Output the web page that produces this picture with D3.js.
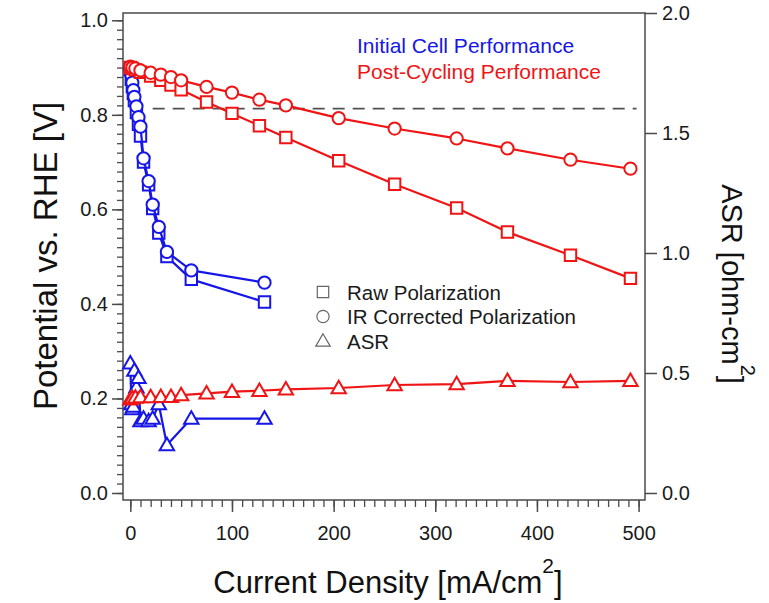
<!DOCTYPE html>
<html>
<head>
<meta charset="utf-8">
<script src="https://cdn.jsdelivr.net/npm/d3@7"></script>
<style>
  body { margin: 0; background: #fff; }
  svg { font-family: "Liberation Sans", Arial, sans-serif; }
</style>
</head>
<body>
<div id="vis"></div>
<script>
// Polarization + ASR, initial cell vs. post-cycling.
// Left axis: potential [V]; right axis: ASR [ohm-cm²].

// ── Data ─────────────────────────────────────────────────────────────────────

const INIT_I   = [0, 1, 2, 3, 4, 6, 8, 10, 13, 18, 22, 28, 36, 60, 132];
const INIT_RAW = [0.895, 0.875, 0.86, 0.845, 0.83, 0.805, 0.78, 0.755, 0.70, 0.652, 0.602, 0.55, 0.50, 0.452, 0.404];
const INIT_IR  = [0.898, 0.885, 0.868, 0.852, 0.838, 0.818, 0.795, 0.775, 0.708, 0.66, 0.61, 0.563, 0.51, 0.471, 0.445];
const INIT_ASR = [0.54, 0.37, 0.35, 0.36, 0.51, 0.44, 0.48, 0.30, 0.31, 0.30, 0.31, 0.37, 0.20, 0.31, 0.31];

const POST_I   = [0, 2, 5, 10, 20, 30, 40, 50, 75, 100, 127, 153, 205, 260, 321, 371, 433, 492];
const POST_RAW = [0.900, 0.898, 0.895, 0.890, 0.882, 0.873, 0.863, 0.853, 0.827, 0.803, 0.777, 0.752, 0.703, 0.653, 0.603, 0.552, 0.503, 0.454];
const POST_IR  = [0.902, 0.900, 0.898, 0.894, 0.889, 0.885, 0.880, 0.873, 0.859, 0.847, 0.832, 0.820, 0.793, 0.771, 0.750, 0.729, 0.705, 0.686];
const POST_ASR = [0.39, 0.395, 0.398, 0.40, 0.40, 0.401, 0.401, 0.408, 0.415, 0.422, 0.426, 0.432, 0.4375, 0.45, 0.454, 0.467, 0.4625, 0.467];

const REF_V     = 0.813;          // dashed reference potential
const REF_RANGE = [22, 498];      // current density span of dashed line

const X_TICKS  = [0, 100, 200, 300, 400, 500];
const YL_TICKS = [0.0, 0.2, 0.4, 0.6, 0.8, 1.0];
const YR_TICKS = [0.0, 0.5, 1.0, 1.5, 2.0];

const LEGEND_CELLS   = ["Initial Cell Performance", "Post-Cycling Performance"];
const LEGEND_SYMBOLS = ["Raw Polarization", "IR Corrected Polarization", "ASR"];

const BLUE = "#1616e8";
const RED  = "#f01414";
const AXIS = "#4a4a4a";

// ── Layout ───────────────────────────────────────────────────────────────────

const W = 769, H = 603;
const plot = { left: 123, right: 645, top: 13, bottom: 500 };

const svg = d3.select("#vis").append("svg")
  .attr("width", W)
  .attr("height", H);

const x = d3.scaleLinear().domain([-7.2, 506.3]).range([plot.left, plot.right]);
const yL = d3.scaleLinear().domain([-0.0148, 1.0154]).range([plot.bottom, plot.top]);
const yR = d3.scaleLinear().domain([-0.0292, 2.0]).range([plot.bottom, plot.top]);

// ── Axes ─────────────────────────────────────────────────────────────────────

const tickText = sel => sel.selectAll("text")
  .style("font-size", "20px")
  .style("fill", "#1a1a1a");

// bottom: minor every 10
svg.append("g")
  .attr("transform", `translate(0,${plot.bottom})`)
  .call(d3.axisBottom(x).tickValues(d3.range(0, 501, 10)).tickSize(7).tickFormat(""))
  .call(ax => ax.select(".domain").remove())
  .call(ax => ax.selectAll("line").attr("stroke", AXIS).attr("stroke-width", 1.3));

svg.append("g")
  .attr("transform", `translate(0,${plot.bottom})`)
  .call(d3.axisBottom(x).tickValues(X_TICKS).tickSize(12).tickPadding(14).tickFormat(d3.format("d")))
  .call(ax => ax.select(".domain").remove())
  .call(ax => ax.selectAll("line").attr("stroke", AXIS).attr("stroke-width", 1.5))
  .call(tickText);

// left: minor every 0.02
svg.append("g")
  .attr("transform", `translate(${plot.left},0)`)
  .call(d3.axisLeft(yL).tickValues(d3.range(0, 51).map(i => i * 0.02)).tickSize(6).tickFormat(""))
  .call(ax => ax.select(".domain").remove())
  .call(ax => ax.selectAll("line").attr("stroke", AXIS).attr("stroke-width", 1.3));

svg.append("g")
  .attr("transform", `translate(${plot.left},0)`)
  .call(d3.axisLeft(yL).tickValues(YL_TICKS).tickSize(11).tickPadding(4).tickFormat(d3.format(".1f")))
  .call(ax => ax.select(".domain").remove())
  .call(ax => ax.selectAll("line").attr("stroke", AXIS).attr("stroke-width", 1.5))
  .call(tickText);

// right: ASR
svg.append("g")
  .attr("transform", `translate(${plot.right},0)`)
  .call(d3.axisRight(yR).tickValues(YR_TICKS).tickSize(12).tickPadding(5).tickFormat(d3.format(".1f")))
  .call(ax => ax.select(".domain").remove())
  .call(ax => ax.selectAll("line").attr("stroke", AXIS).attr("stroke-width", 1.5))
  .call(tickText);

// frame
svg.append("rect")
  .attr("x", plot.left).attr("y", plot.top)
  .attr("width", plot.right - plot.left)
  .attr("height", plot.bottom - plot.top)
  .attr("fill", "none")
  .attr("stroke", AXIS)
  .attr("stroke-width", 1.5);

// ── Axis titles ──────────────────────────────────────────────────────────────

svg.append("text")
  .attr("transform", `translate(57,256) rotate(-90)`)
  .attr("text-anchor", "middle")
  .style("font-size", "33px")
  .style("fill", "#111")
  .text("Potential vs. RHE [V]");

const xTitle = svg.append("text")
  .attr("x", 388).attr("y", 593)
  .attr("text-anchor", "middle")
  .style("font-size", "31px")
  .style("fill", "#111");
xTitle.append("tspan").text("Current Density [mA/cm");
xTitle.append("tspan").attr("dy", -20).style("font-size", "21px").text("2");
xTitle.append("tspan").attr("dy", 20).text("]");

const rTitle = svg.append("text")
  .attr("transform", `translate(722,284) rotate(90)`)
  .attr("text-anchor", "middle")
  .style("font-size", "29px")
  .style("fill", "#111");
rTitle.append("tspan").text("ASR [ohm-cm");
rTitle.append("tspan").attr("dy", -19).style("font-size", "20px").text("2");
rTitle.append("tspan").attr("dy", 19).text("]");

// ── Reference line ───────────────────────────────────────────────────────────

svg.append("line")
  .attr("x1", x(REF_RANGE[0])).attr("x2", x(REF_RANGE[1]))
  .attr("y1", yL(REF_V)).attr("y2", yL(REF_V))
  .attr("stroke", "#505050")
  .attr("stroke-width", 1.8)
  .attr("stroke-dasharray", "12,8");

// ── Series ───────────────────────────────────────────────────────────────────

const SQ = d3.symbol().type(d3.symbolSquare).size(130);
const CI = d3.symbol().type(d3.symbolCircle).size(118);
const TRI = d3.symbol().type(d3.symbolTriangle).size(90);

function series(xs, ys, yScale, color, shape, dy = 0) {
  const pts = xs.map((v, i) => [x(v), yScale(ys[i])]);
  svg.append("path")
    .attr("d", d3.line()(pts))
    .attr("fill", "none")
    .attr("stroke", color)
    .attr("stroke-width", 2.2)
    .attr("stroke-linejoin", "round");
  svg.append("g")
    .selectAll("path")
    .data(pts)
    .join("path")
      .attr("transform", d => `translate(${d[0]},${d[1] + dy})`)
      .attr("d", shape())
      .attr("fill", "#fff")
      .attr("stroke", color)
      .attr("stroke-width", 2);
}

series(INIT_I, INIT_RAW, yL, BLUE, SQ);
series(INIT_I, INIT_IR,  yL, BLUE, CI);
series(INIT_I, INIT_ASR, yR, BLUE, TRI, 1);

series(POST_I, POST_RAW, yL, RED, SQ);
series(POST_I, POST_IR,  yL, RED, CI);
series(POST_I, POST_ASR, yR, RED, TRI, 1);

// ── Legends ──────────────────────────────────────────────────────────────────

svg.append("g")
  .selectAll("text")
  .data(LEGEND_CELLS)
  .join("text")
    .attr("x", 357)
    .attr("y", (d, i) => 53 + i * 26)
    .style("font-size", "21px")
    .style("fill", (d, i) => i === 0 ? BLUE : RED)
    .text(d => d);

const SYM_SHAPES = [SQ, CI, TRI];
const symLeg = svg.append("g")
  .selectAll("g")
  .data(LEGEND_SYMBOLS)
  .join("g")
    .attr("transform", (d, i) => `translate(323,${292 + i * 24.5})`);

symLeg.append("path")
  .attr("d", (d, i) => SYM_SHAPES[i]())
  .attr("transform", (d, i) => i === 2 ? "translate(0,1)" : null)
  .attr("fill", "none")
  .attr("stroke", "#666")
  .attr("stroke-width", 1.2);

symLeg.append("text")
  .attr("x", 24)
  .attr("y", 7.5)
  .style("font-size", "20.5px")
  .style("fill", "#1a1a1a")
  .text(d => d);
</script>
</body>
</html>
